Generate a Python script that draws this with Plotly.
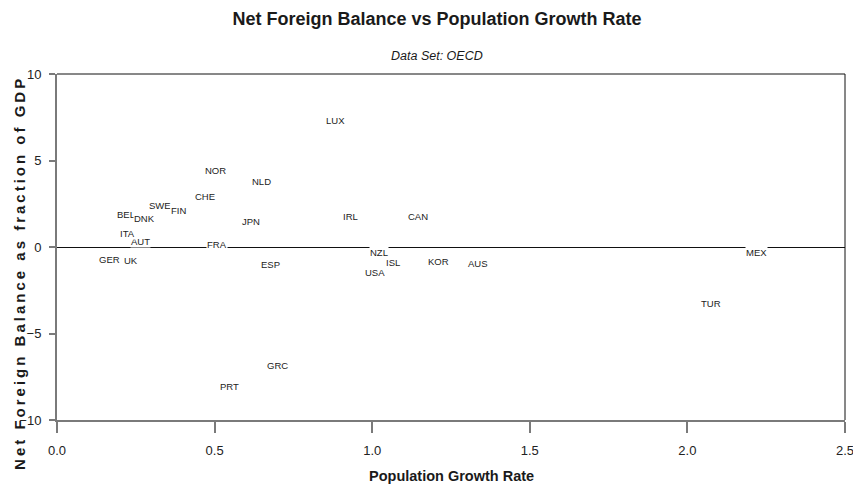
import plotly.graph_objects as go

# OECD countries: population growth rate (%) vs net foreign balance (% of GDP)
countries = ["AUT", "FRA", "NZL", "MEX", "LUX", "NOR", "NLD", "CHE", "SWE", "FIN",
             "BEL", "DNK", "JPN", "IRL", "CAN", "ITA", "GER", "UK", "ESP", "ISL",
             "USA", "KOR", "AUS", "TUR", "GRC", "PRT"]
pop_growth = [0.266, 0.507, 1.022, 2.220, 0.882, 0.504, 0.650, 0.471, 0.326, 0.384,
              0.219, 0.276, 0.615, 0.930, 1.145, 0.224, 0.167, 0.235, 0.676, 1.065,
              1.009, 1.209, 1.336, 2.075, 0.701, 0.546]
net_foreign = [0.31, 0.15, -0.31, -0.34, 7.30, 4.40, 3.77, 2.94, 2.42, 2.09,
               1.90, 1.62, 1.45, 1.79, 1.75, 0.80, -0.75, -0.79, -0.99, -0.88,
               -1.46, -0.84, -0.93, -3.26, -6.86, -8.08]

x_ticks = [0.0, 0.5, 1.0, 1.5, 2.0, 2.5]
y_ticks = [-10, -5, 0, 5, 10]

FONT = "Liberation Sans, Arial, Helvetica, sans-serif"
AXIS_GRAY = "#7a7a7a"
INK = "#1a1a1a"

fig = go.Figure()

# invisible carrier trace so the axes span the data
fig.add_trace(go.Scatter(x=pop_growth, y=net_foreign, mode="markers",
                         marker=dict(size=1, opacity=0), hoverinfo="skip",
                         showlegend=False))

# country codes as the plotted marks; white backing masks the zero line
for code, xv, yv in zip(countries, pop_growth, net_foreign):
    fig.add_annotation(x=xv, y=yv, xref="x", yref="y", text=code,
                       showarrow=False, bgcolor="white", borderpad=0,
                       font=dict(family=FONT, size=9.5, color="#222222"))

# letter-spaced vertical axis caption
caption = "Net Foreign Balance as fraction of GDP"
y_title = "\u2009".join(caption.replace(" ", "\u00a0"))
fig.add_annotation(x=-0.047, y=0.422, xref="paper", yref="paper", text=y_title,
                   textangle=-90, showarrow=False, xanchor="center", yanchor="middle",
                   font=dict(family=FONT, size=15, color=INK, weight="bold"))

# horizontal axis caption
fig.add_annotation(x=0.5, y=0, xref="paper", yref="paper", yshift=-56,
                   text="Population Growth Rate", showarrow=False,
                   xanchor="center", yanchor="middle",
                   font=dict(family=FONT, size=14.5, color=INK, weight="bold"))

# subtitle
fig.add_annotation(x=0.482, y=1, xref="paper", yref="paper", yshift=18,
                   text="<i>Data Set: OECD</i>", showarrow=False,
                   xanchor="center", yanchor="middle",
                   font=dict(family=FONT, size=12.5, color=INK))

# thin black top and right frame edges
fig.add_shape(type="line", xref="paper", yref="paper", x0=0, x1=1, y0=1, y1=1,
              line=dict(color="#111111", width=1))
fig.add_shape(type="line", xref="paper", yref="paper", x0=1, x1=1, y0=0, y1=1,
              line=dict(color="#111111", width=1))

fig.update_layout(
    width=853, height=501,
    margin=dict(l=57, r=8, t=74, b=81),
    paper_bgcolor="white", plot_bgcolor="white",
    title=dict(text="Net Foreign Balance vs Population Growth Rate",
               x=0.5123, xanchor="center", y=0.962, yanchor="middle",
               font=dict(family=FONT, size=18, color=INK, weight="bold")),
    showlegend=False,
    xaxis=dict(range=[0, 2.5], tickvals=x_ticks, ticktext=[f"{v:.1f}" for v in x_ticks],
               ticks="outside", ticklen=11, tickwidth=2, tickcolor=AXIS_GRAY,
               ticklabelstandoff=6, ticklabeloverflow="allow", automargin=False,
               showline=True, linecolor=AXIS_GRAY, linewidth=2, mirror=False,
               showgrid=False, zeroline=False,
               tickfont=dict(family=FONT, size=13, color="#222222")),
    yaxis=dict(range=[-10, 10], tickvals=y_ticks,
               ticks="outside", ticklen=6, tickwidth=1.5, tickcolor=AXIS_GRAY,
               ticklabelstandoff=5, ticklabeloverflow="allow", automargin=False,
               showline=True, linecolor=AXIS_GRAY, linewidth=2, mirror=False,
               showgrid=False, zeroline=True, zerolinecolor="#111111", zerolinewidth=1,
               tickfont=dict(family=FONT, size=13, color="#222222")),
)

fig.write_html("out.html")
